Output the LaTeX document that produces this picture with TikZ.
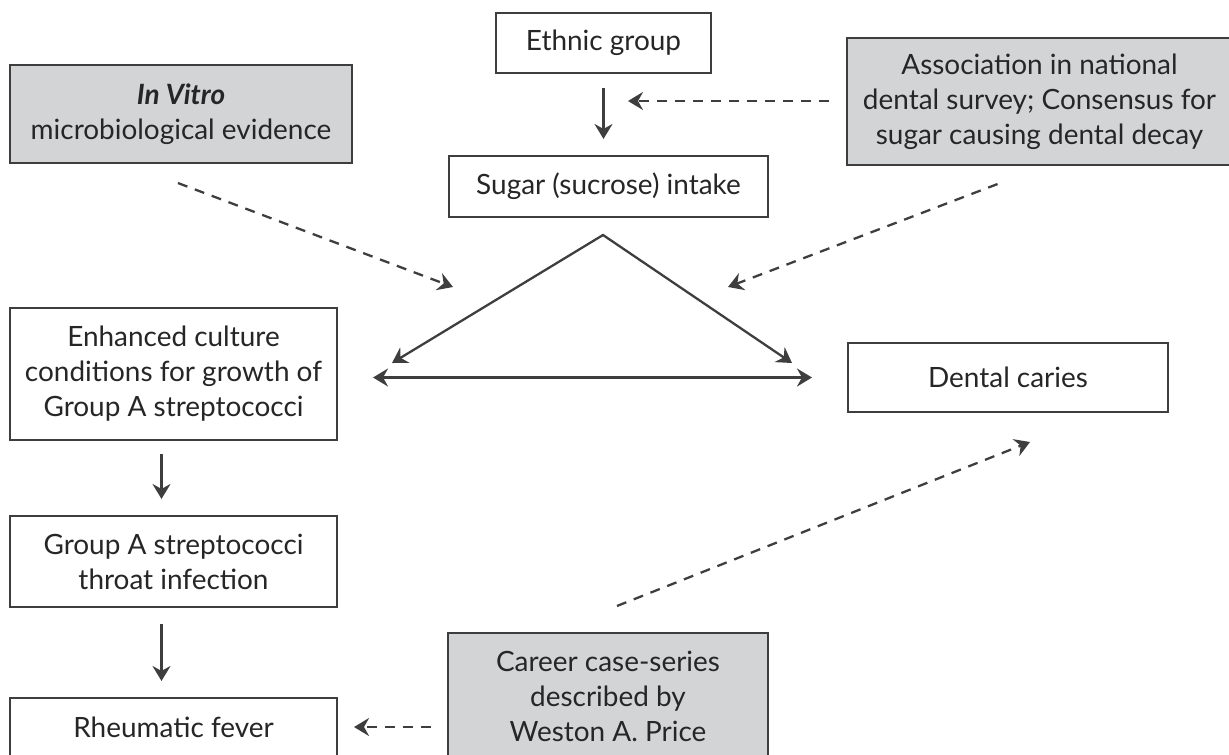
\documentclass[tikz,border=0pt]{standalone}
\usepackage{fontspec}
\setmainfont{Lato}
\usepackage{tikz}
\usetikzlibrary{arrows.meta}
\definecolor{inkx}{HTML}{262626}
\definecolor{linex}{HTML}{3E3E3E}
\definecolor{greyx}{HTML}{D3D4D6}
\tikzset{
  ar/.style={-{Stealth[length=3mm,width=3.6mm,inset=1mm]},line width=1.3pt,linex},
  ar2/.style={{Stealth[length=3mm,width=3.6mm,inset=1mm]}-{Stealth[length=3mm,width=3.6mm,inset=1mm]},line width=1.3pt,linex},
  dar/.style={ar,dash pattern=on 2mm off 1.6mm},
  box/.style={draw=linex,line width=1.2pt,fill=white,align=center,inner sep=0pt,text=inkx,font=\fontsize{15.9}{19.9}\selectfont},
  gbox/.style={box,fill=greyx}
}

\begin{document}
\begin{tikzpicture}[x=0.02cm,y=-0.02cm]
\useasboundingbox (0,0) rectangle (1229,754);
% boxes
\node[box,minimum width=4.3cm,minimum height=1.2cm] (ethnic) at (603.5,43) {Ethnic group};
\node[gbox,minimum width=6.84cm,minimum height=1.96cm] (invitro) at (181,114) {\textbf{\textit{In Vitro}}\\microbiological evidence};
\node[gbox,minimum width=7.7cm,minimum height=2.54cm] (assoc) at (1039.5,101.5) {Association in national\\dental survey; Consensus for\\sugar causing dental decay};
\node[box,minimum width=6.38cm,minimum height=1.22cm] (sugar) at (608.5,186.5) {Sugar (sucrose) intake};
\node[box,minimum width=6.54cm,minimum height=2.64cm] (enhanced) at (173.5,374) {Enhanced culture\\conditions for growth of\\Group A streptococci};
\node[box,minimum width=6.4cm,minimum height=1.38cm] (caries) at (1008,377.5) {Dental caries};
\node[box,minimum width=6.54cm,minimum height=1.82cm] (groupA) at (173.5,561.5) {Group A streptococci\\throat infection};
\node[box,minimum width=6.54cm,minimum height=1.16cm] (rheum) at (173.5,727) {Rheumatic fever};
\node[gbox,minimum width=6.4cm,minimum height=2.52cm] (career) at (608,696) {Career case-series\\described by\\Weston A. Price};
% free ends
\coordinate (eArr) at (628,101);
\coordinate (apex) at (603,235);
\coordinate (lEnd) at (392,363);
\coordinate (rEnd) at (792,363);
\coordinate (lTip) at (453,287);
\coordinate (rTip) at (728,287);
\coordinate (cTip) at (1030,442);
% arrows
\draw[ar,shorten <=0.28cm,shorten >=0.32cm] (ethnic.south) -- (ethnic.south |- sugar.north);
\draw[dar,shorten <=0.34cm] (assoc.west |- eArr) -- (eArr);
\draw[dar] ([shift={(-3,19)}]invitro.south) -- (lTip);
\draw[dar] ([shift={(-42,18)}]assoc.south) -- (rTip);
\draw[ar2] (lEnd) -- (apex) -- (rEnd);
\draw[ar2,shorten <=0.7cm,shorten >=0.7cm] (enhanced.east |- caries.west) -- (caries.west);
\draw[ar,shorten <=0.26cm,shorten >=0.32cm] ([shift={(-12,0)}]enhanced.south) -- ([shift={(-12,0)}]groupA.north);
\draw[ar,shorten <=0.32cm,shorten >=0.32cm] ([shift={(-12,0)}]groupA.south) -- ([shift={(-12,0)}]rheum.north);
\draw[dar] ([shift={(9,-26)}]career.north) -- (cTip);
\draw[dar,shorten <=0.32cm,shorten >=0.32cm] (career.west |- rheum.east) -- (rheum.east);
\end{tikzpicture}
\end{document}
